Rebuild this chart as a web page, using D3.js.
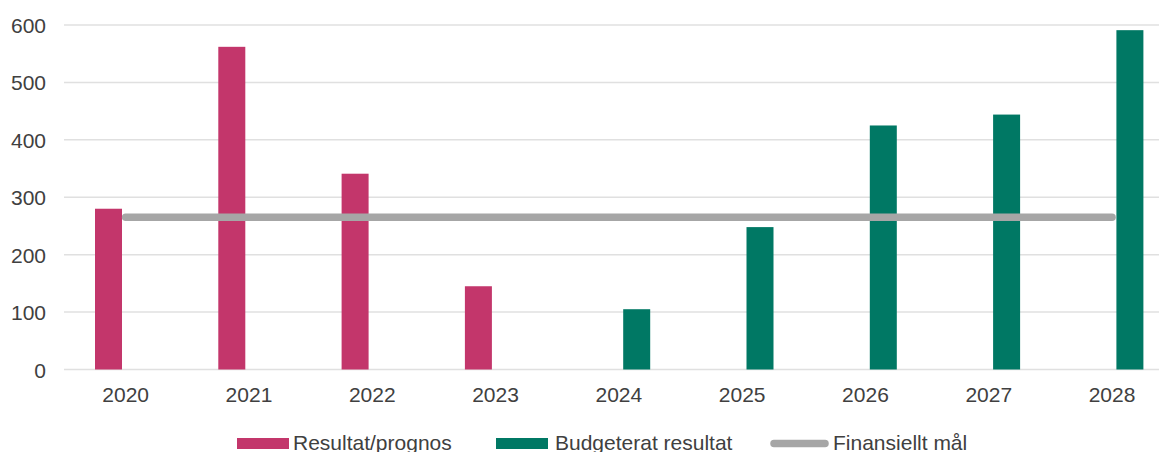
<!DOCTYPE html>
<html>
<head>
<meta charset="utf-8">
<script src="https://cdn.jsdelivr.net/npm/d3@7"></script>
<style>
  body { margin: 0; background: #fff; }
  svg { display: block; font-family: "Liberation Sans", Arial, sans-serif; }
</style>
</head>
<body>
<svg id="chart" width="1159" height="452"></svg>
<script>
const years = ["2020", "2021", "2022", "2023", "2024", "2025", "2026", "2027", "2028"];
const resultat = [280, 562, 341, 145, null, null, null, null, null];
const budget = [null, null, null, null, 105, 248, 425, 444, 591];
const finansielltMal = [265, 265, 265, 265, 265, 265, 265, 265, 265];
const yTicks = [0, 100, 200, 300, 400, 500, 600];
const seriesNames = ["Resultat/prognos", "Budgeterat resultat", "Finansiellt mål"];

const colors = { res: "#C3366B", bud: "#007864", mal: "#A6A6A6" };
const textColor = "#404040";

const svg = d3.select("#chart");

const x = d3.scaleBand().domain(years).range([64, 64 + 9 * 123.3]).padding(0);
const x1 = d3.scaleBand().domain(["res", "bud"]).range([31, 93]).paddingInner(0.2286).paddingOuter(0);
const y = d3.scaleLinear().domain([0, 600]).range([369.5, 25]);

// gridlines
svg.append("g").selectAll("line").data(yTicks).join("line")
  .attr("x1", 64).attr("x2", 1159)
  .attr("y1", d => y(d)).attr("y2", d => y(d))
  .attr("stroke", "#e0e0e0").attr("stroke-width", 1.5);

// y axis labels
const yAxis = d3.axisLeft(y).tickValues(yTicks).tickSize(0).tickPadding(0);
const gy = svg.append("g").attr("transform", "translate(46,0)").call(yAxis);
gy.select(".domain").remove();
gy.selectAll("text").attr("fill", textColor).style("font-size", "21px")
  .style("font-family", "'Liberation Sans', Arial, sans-serif").attr("dy", "0.36em");

// x axis labels
const xAxis = d3.axisBottom(x).tickSize(0).tickPadding(0);
const gx = svg.append("g").attr("transform", "translate(0,386)").call(xAxis);
gx.select(".domain").remove();
gx.selectAll("text").attr("fill", textColor).style("font-size", "21px")
  .style("font-family", "'Liberation Sans', Arial, sans-serif").attr("dy", "0.75em");

// bars
const barData = [];
years.forEach((yr, i) => {
  if (resultat[i] != null) barData.push({ yr, key: "res", v: resultat[i] });
  if (budget[i] != null) barData.push({ yr, key: "bud", v: budget[i] });
});
svg.append("g").selectAll("rect").data(barData).join("rect")
  .attr("x", d => x(d.yr) + x1(d.key))
  .attr("width", x1.bandwidth())
  .attr("y", d => y(d.v))
  .attr("height", d => y(0) - y(d.v))
  .attr("fill", d => colors[d.key]);

// target line
const line = d3.line().x((d, i) => x(years[i]) + x.bandwidth() / 2).y(d => y(d));
svg.append("path").datum(finansielltMal)
  .attr("d", line).attr("fill", "none")
  .attr("stroke", colors.mal).attr("stroke-width", 7.5).attr("stroke-linecap", "round");

// legend
const lg = svg.append("g");
const lx = [237, 496, 770];
lg.append("rect").attr("x", lx[0]).attr("y", 438).attr("width", 52).attr("height", 11).attr("fill", colors.res);
lg.append("text").attr("x", lx[0] + 56).attr("y", 450).text(seriesNames[0]);
lg.append("rect").attr("x", lx[1]).attr("y", 438).attr("width", 52).attr("height", 11).attr("fill", colors.bud);
lg.append("text").attr("x", lx[1] + 59).attr("y", 450).text(seriesNames[1]);
lg.append("line").attr("x1", lx[2] + 4).attr("x2", lx[2] + 55).attr("y1", 443.5).attr("y2", 443.5)
  .attr("stroke", colors.mal).attr("stroke-width", 7.5).attr("stroke-linecap", "round");
lg.append("text").attr("x", lx[2] + 63).attr("y", 450).text(seriesNames[2]);
lg.selectAll("text").attr("fill", textColor).style("font-size", "21px");
</script>
</body>
</html>
